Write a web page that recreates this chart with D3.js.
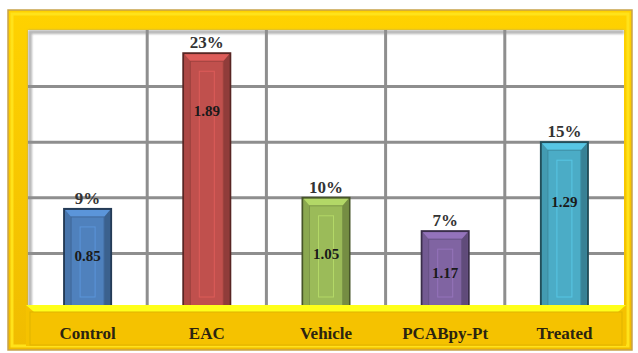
<!DOCTYPE html>
<html>
<head>
<meta charset="utf-8">
<script src="https://d3js.org/d3.v7.min.js"></script>
<style>
  body { margin: 0; background: #fff; }
  svg text { font-family: 'Liberation Serif', serif !important; font-weight: bold; }
</style>
</head>
<body>
<svg id="chart" width="638" height="353"></svg>
<script>
// chart data
var groups = ['Control', 'EAC', 'Vehicle', 'PCABpy-Pt', 'Treated'];
var percents = [9, 23, 10, 7, 15];
var ratios = ['0.85', '1.89', '1.05', '1.17', '1.29'];
// where the inner value label sits, in % units
var ratioLabelAt = [4.8, 17.8, 5.0, 3.3, 9.6];
var barColors = ['#4f81bd', '#c0504d', '#9bbb59', '#8064a2', '#4bacc6'];
var gridTicks = [5, 10, 15, 20];

var svg = d3.select('#chart');
var plot = {left: 28, right: 624, top: 30, bottom: 309};

var x = d3.scaleBand().domain(groups).range([plot.left, plot.right]).paddingInner(0).paddingOuter(0);
var y = d3.scaleLinear().domain([0, 25]).range([plot.bottom, plot.top + 1]);

var defs = svg.append('defs');

var frameGrad = defs.append('linearGradient').attr('id', 'frameGrad')
  .attr('x1', 0).attr('y1', 0).attr('x2', 0).attr('y2', 1);
frameGrad.append('stop').attr('offset', '0%').attr('stop-color', '#ffd200');
frameGrad.append('stop').attr('offset', '100%').attr('stop-color', '#f0bc00');

var shadow = defs.append('filter').attr('id', 'soft')
  .attr('x', '-20%').attr('y', '-20%').attr('width', '140%').attr('height', '140%');
shadow.append('feGaussianBlur').attr('stdDeviation', 1.2);

// yellow outer frame
svg.append('rect')
  .attr('x', 8).attr('y', 10).attr('width', 624).attr('height', 340)
  .attr('fill', 'url(#frameGrad)').attr('stroke', '#c8a24a').attr('stroke-width', 1.5);
svg.append('rect')
  .attr('x', 12).attr('y', 14).attr('width', 616).attr('height', 332)
  .attr('fill', 'none').attr('stroke', '#ffe21a').attr('stroke-width', 3);

// white plot area with inner shadow
svg.append('rect')
  .attr('x', plot.left).attr('y', plot.top)
  .attr('width', plot.right - plot.left).attr('height', plot.bottom - plot.top)
  .attr('fill', '#ffffff');
svg.append('path')
  .attr('d', 'M' + (plot.left + 2) + ',' + plot.bottom + 'V' + (plot.top + 2) + 'H' + plot.right)
  .attr('fill', 'none').attr('stroke', '#9a9a9a').attr('stroke-width', 4)
  .attr('filter', 'url(#soft)').attr('opacity', 0.7);

// grid
var grid = svg.append('g');
grid.selectAll('.hline').data(gridTicks).enter().append('line')
  .attr('x1', plot.left).attr('x2', plot.right)
  .attr('y1', function(d) { return y(d); }).attr('y2', function(d) { return y(d); })
  .attr('stroke', '#8e8e8e').attr('stroke-width', 3);
grid.selectAll('.vline').data(groups.slice(1)).enter().append('line')
  .attr('x1', function(d) { return x(d); }).attr('x2', function(d) { return x(d); })
  .attr('y1', plot.top).attr('y2', plot.bottom)
  .attr('stroke', '#8e8e8e').attr('stroke-width', 3);

// bars
var bw = 47;
var bars = svg.selectAll('.bar').data(groups).enter().append('g')
  .attr('transform', function(d) { return 'translate(' + (x(d) + x.bandwidth() / 2 - bw / 2) + ',0)'; });

bars.append('rect')
  .attr('y', function(d, i) { return y(percents[i]); })
  .attr('width', bw)
  .attr('height', function(d, i) { return y(0) - y(percents[i]); })
  .attr('fill', function(d, i) { return barColors[i]; })
  .attr('stroke', function(d, i) { return d3.color(barColors[i]).darker(2.2); })
  .attr('stroke-width', 2);

// bevel: lighter top, darker right side
bars.append('path')
  .attr('d', function(d, i) {
    var t = y(percents[i]) + 1;
    return 'M1,' + t + 'H' + (bw - 1) + 'L' + (bw - 7) + ',' + (t + 7) + 'H7Z';
  })
  .attr('fill', function(d, i) { return d3.color(barColors[i]).brighter(0.4); });
bars.append('path')
  .attr('d', function(d, i) {
    var t = y(percents[i]) + 1;
    return 'M' + (bw - 1) + ',' + t + 'V' + (y(0) - 1) + 'H' + (bw - 7) + 'V' + (t + 7) + 'Z';
  })
  .attr('fill', function(d, i) { return d3.color(barColors[i]).darker(0.8); });
bars.append('path')
  .attr('d', function(d, i) {
    var t = y(percents[i]) + 1;
    return 'M1,' + t + 'V' + (y(0) - 1) + 'H7V' + (t + 7) + 'Z';
  })
  .attr('fill', function(d, i) { return d3.color(barColors[i]).darker(0.3); });
bars.append('rect')
  .attr('x', 7)
  .attr('y', function(d, i) { return y(percents[i]) + 8; })
  .attr('width', bw - 14)
  .attr('height', function(d, i) { return Math.max(0, y(0) - y(percents[i]) - 9); })
  .attr('fill', 'none')
  .attr('stroke', function(d, i) { return d3.color(barColors[i]).darker(0.6); })
  .attr('stroke-width', 1);
bars.append('rect')
  .attr('x', 16)
  .attr('y', function(d, i) { return y(percents[i]) + 18; })
  .attr('width', bw - 32)
  .attr('height', function(d, i) { return Math.max(0, y(0) - y(percents[i]) - 30); })
  .attr('fill', 'none')
  .attr('stroke', function(d, i) { return d3.color(barColors[i]).brighter(0.4); })
  .attr('stroke-width', 1);

// percent labels above bars
svg.selectAll('.pct').data(groups).enter().append('text')
  .attr('x', function(d) { return x(d) + x.bandwidth() / 2; })
  .attr('y', function(d, i) { return y(percents[i]) - 5; })
  .attr('text-anchor', 'middle')
  .style('font-size', '17px')
  .attr('fill', '#333')
  .text(function(d, i) { return percents[i] + '%'; });

// value labels inside bars
svg.selectAll('.ratio').data(groups).enter().append('text')
  .attr('x', function(d) { return x(d) + x.bandwidth() / 2; })
  .attr('y', function(d, i) { return y(ratioLabelAt[i]); })
  .attr('dy', '0.35em')
  .attr('text-anchor', 'middle')
  .style('font-size', '15px')
  .attr('fill', '#1a1a1a')
  .text(function(d, i) { return ratios[i]; });

// yellow floor
svg.append('rect')
  .attr('x', plot.left - 2).attr('y', 305).attr('width', plot.right - plot.left + 4).attr('height', 41)
  .attr('fill', '#f5c200');
svg.append('path')
  .attr('d', 'M' + (plot.left - 2) + ',305H' + (plot.right + 2) + 'L' + (plot.right - 6) + ',312H' + (plot.left + 6) + 'Z')
  .attr('fill', '#ffff1a');
svg.append('rect')
  .attr('x', plot.left + 2).attr('y', 312).attr('width', plot.right - plot.left - 4).attr('height', 33)
  .attr('fill', 'none').attr('stroke', '#e0b300').attr('stroke-width', 1);

// category axis
var xAxis = svg.append('g').attr('transform', 'translate(0,' + 333 + ')')
  .call(d3.axisBottom(x).tickSize(0).tickPadding(0));
xAxis.select('.domain').remove();
xAxis.selectAll('text')
  .attr('dy', '0.35em')
  .style('font-size', '17px')
  .attr('fill', '#2b2410');
</script>
</body>
</html>
